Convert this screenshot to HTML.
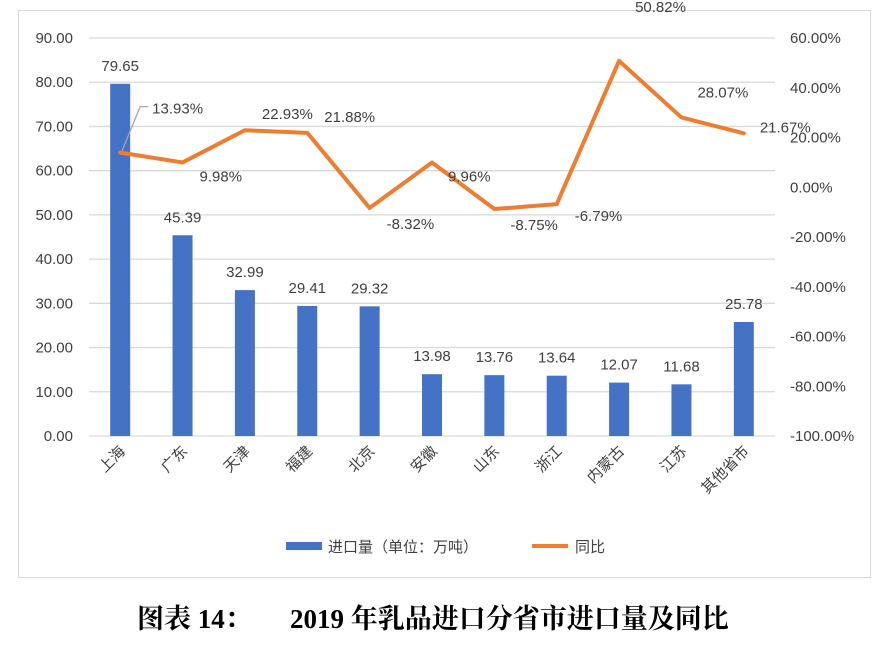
<!DOCTYPE html>
<html><head><meta charset="utf-8"><style>
body{margin:0;background:#fff;width:896px;height:649px;overflow:hidden}
svg text{font-family:"Liberation Sans","Noto Sans CJK SC",sans-serif;fill:#404040}
</style></head><body>
<svg id="c" width="896" height="649">
<rect x="18.5" y="10.5" width="852" height="567" fill="#fff" stroke="#d9d9d9"/>
<g id="grid"></g><g id="bars"></g><g id="line"></g><g id="labels"></g><g id="axes"></g>
<g>
<rect x="286" y="542" width="36" height="8" fill="#4472c4"/>
<text x="328" y="552" font-size="15">进口量（单位：万吨）</text>
<line x1="532" y1="546" x2="568" y2="546" stroke="#ed7d31" stroke-width="4"/>
<text x="575" y="552" font-size="15">同比</text>
</g>
<text y="628" font-size="27" font-weight="bold" style="font-family:'Liberation Serif','Noto Serif CJK SC',serif;fill:#000"><tspan x="137">图表 14：</tspan><tspan x="290">2019 年乳品进口分省市进口量及同比</tspan></text>
</svg>
<script>
const categories=["上海","广东","天津","福建","北京","安徽","山东","浙江","内蒙古","江苏","其他省市"];
const volumes=[79.65,45.39,32.99,29.41,29.32,13.98,13.76,13.64,12.07,11.68,25.78];
const growth=[13.93,9.98,22.93,21.88,-8.32,9.96,-8.75,-6.79,50.82,28.07,21.67];
const leftTicks=[0,10,20,30,40,50,60,70,80,90];
const rightTicks=[-100,-80,-60,-40,-20,0,20,40,60];
const NS="http://www.w3.org/2000/svg";
const yTop=38,yBot=436,x0=89,x1=775;
const yL=v=>yBot-(v/90)*(yBot-yTop);
const yR=v=>yBot-((v+100)/160)*(yBot-yTop);
const step=(x1-x0)/categories.length;
const xc=i=>x0+step*(i+0.5);
function mk(t,a,p,txt){const e=document.createElementNS(NS,t);for(const k in a)e.setAttribute(k,a[k]);if(txt!==undefined)e.textContent=txt;document.getElementById(p).appendChild(e);return e;}
leftTicks.forEach(v=>{
 const g=mk('line',{x1:x0,x2:x1,y1:yL(v),y2:yL(v),stroke:'#d9d9d9','stroke-width':1.3},'grid');
 
 
 const t=mk('text',{x:73,y:yL(v)+5,'text-anchor':'end','font-size':15},'axes',v.toFixed(2));
 
 
});
rightTicks.forEach(v=>{
 const t=mk('text',{x:790,y:yR(v)+5,'font-size':15},'axes',v.toFixed(2)+'%');
 
 
});
categories.forEach((c,i)=>{
 const b=mk('rect',{x:xc(i)-10,y:yL(volumes[i]),width:20,height:yBot-yL(volumes[i]),fill:'#4472c4'},'bars');
 
 
 const t=mk('text',{x:xc(i),y:yL(volumes[i])-13,'text-anchor':'middle','font-size':15},'labels',volumes[i].toFixed(2));
 
 
 const cx=xc(i)+6,cy=452;
 const xl=mk('text',{x:cx,y:cy,'text-anchor':'end','font-size':15,transform:`rotate(-45 ${cx} ${cy})`},'axes',c);
 
 
});
const pts=growth.map((v,i)=>xc(i)+','+yR(v)).join(' ');
const pl=mk('polyline',{points:pts,fill:'none',stroke:'#ed7d31','stroke-width':4,'stroke-linejoin':'round','stroke-linecap':'round'},'line');


const off=[[32,-44],[17,14],[17,-16],[17,-16],[17,16],[16,14],[16,16],[18,12],[16,-54],[16,-25],[16,-6]];
const ld=mk('polyline',{points:`${xc(0)+2},${yR(growth[0])-2} ${xc(0)+20},${yR(growth[0])-46} ${xc(0)+28},${yR(growth[0])-46}`,fill:'none',stroke:'#a6a6a6','stroke-width':1.3},'labels');


growth.forEach((v,i)=>{
 const t=mk('text',{x:xc(i)+off[i][0],y:yR(v)+off[i][1]+5,'font-size':15},'labels',v.toFixed(2)+'%');
 
 
});
</script>
</body></html>
